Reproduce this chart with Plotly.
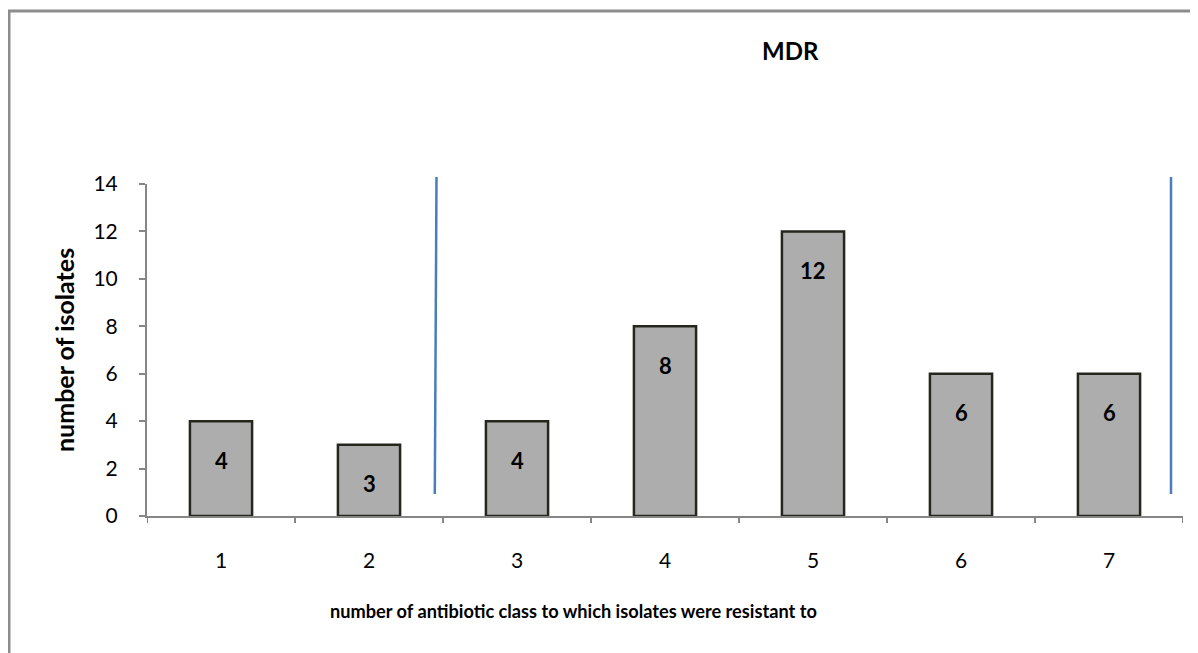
import plotly.graph_objects as go

categories = ["1", "2", "3", "4", "5", "6", "7"]
isolates = [4, 3, 4, 8, 12, 6, 6]
y_ticks = [0, 2, 4, 6, 8, 10, 12, 14]

OFF = 8  # page body margin in the browser
W, H = 1198, 653
# plot area in screen pixels: x 147..1183, y 184..516
L, T = 147 - OFF, 184 - OFF
R = W - (1183 - OFF)
B = H - (516 - OFF)
pw, ph = W - L - R, H - T - B
FONT = "Lato, Open Sans, sans-serif"

def px(x):
    return (x - OFF - L) / pw

def py(y):
    return (516 - y) / ph

xs = list(range(len(categories)))

fig = go.Figure()
fig.add_trace(go.Bar(
    x=xs, y=isolates, width=0.42,
    marker=dict(color="#adadad", line=dict(color="#26261f", width=2.5)),
    hoverinfo="skip",
))

for i, v in zip(xs, isolates):
    fig.add_annotation(x=i, y=v, text=f"<b>{v}</b>", showarrow=False,
                       xanchor="center", yanchor="middle",
                       yshift=-39, font=dict(size=22, color="black", family=FONT))

def note(x, y, text, size, angle=0):
    fig.add_annotation(x=px(x), y=py(y), xref="paper", yref="paper", text=text,
                       textangle=angle, xanchor="center", yanchor="middle",
                       showarrow=False, font=dict(size=size, color="black", family=FONT))

note(790, 50, "<b>MDR</b>", 24)
note(573, 611, "<b>number of antibiotic class to which isolates were resistant to</b>", 18.2)
note(64, 350, "<b>number of isolates</b>", 25, -90)

# outer frame
fig.add_shape(type="rect", xref="paper", yref="paper",
              x0=px(9), x1=px(1192), y0=py(11), y1=py(700),
              line=dict(color="#8c8c8c", width=3), layer="below")
# blue vertical lines
fig.add_shape(type="line", xref="paper", yref="paper",
              x0=px(436.5), x1=px(434.8), y0=py(177), y1=py(494),
              line=dict(color="#4a7ebb", width=2.5))
fig.add_shape(type="line", xref="paper", yref="paper",
              x0=px(1171), x1=px(1171), y0=py(177), y1=py(494),
              line=dict(color="#4a7ebb", width=2.5))

fig.update_layout(
    width=W, height=H,
    margin=dict(l=L, r=R, t=T, b=B),
    paper_bgcolor="white", plot_bgcolor="white",
    showlegend=False,
    font=dict(family=FONT, size=21, color="black"),
    xaxis=dict(range=[-0.5, 6.5], tickvals=xs, ticktext=categories,
               showline=True, linecolor="#868686", linewidth=2,
               ticks="", showgrid=False, zeroline=False,
               tickfont=dict(size=21), ticklabelstandoff=25),
    yaxis=dict(range=[0, 14], tickvals=y_ticks, showline=True, linecolor="#868686", linewidth=2,
               ticks="outside", ticklen=6, tickcolor="#868686", tickwidth=2,
               showgrid=False, zeroline=False, tickfont=dict(size=21), ticklabelstandoff=17),
)

# category boundary tick marks on the x axis
for k in range(len(categories) + 1):
    fig.add_shape(type="line", xref="x", yref="paper",
                  x0=k - 0.5, x1=k - 0.5, y0=0, y1=-7 / ph,
                  line=dict(color="#868686", width=2))

fig.write_html("out.html")
